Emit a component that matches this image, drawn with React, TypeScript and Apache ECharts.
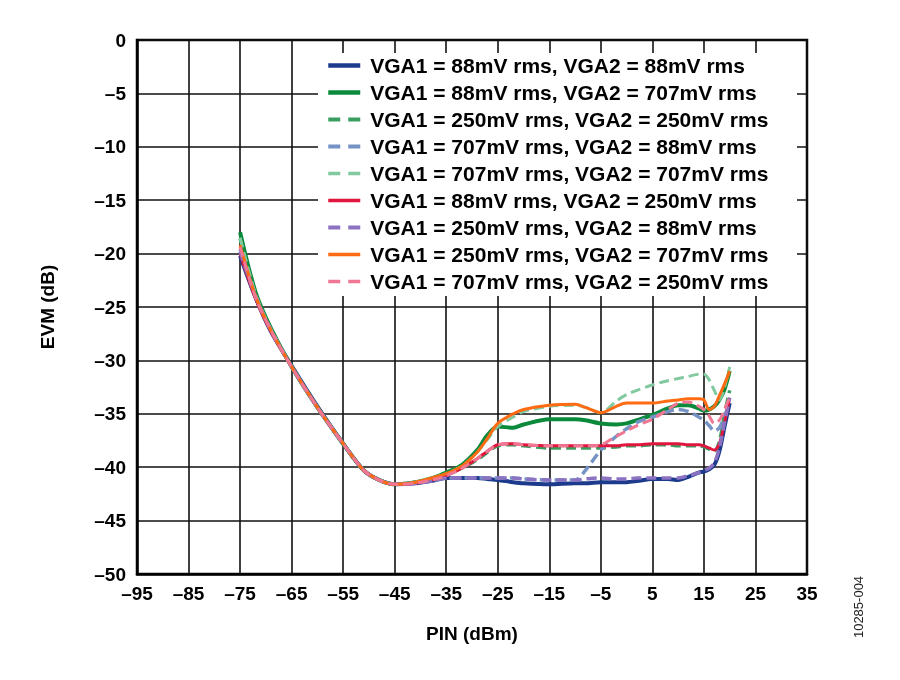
import { useEffect, useRef } from 'react';
import * as echarts from 'echarts';

// PIN (dBm) sample points shared by all traces
const pin = [
  -75, -72, -69, -65, -60, -55, -51, -48, -45, -41, -37, -35, -32, -29, -27, -25, -22, -20,
  -15, -10, -8, -5, -2, 0, 2, 5, 8, 10, 12, 14, 15, 16, 17, 18, 19, 20,
];

// EVM (dB) per VGA1/VGA2 setting
const evm88_88 = [
  -20.2, -24.1, -27.3, -30.5, -34.3, -37.8, -40.3, -41.2, -41.6, -41.5, -41.2, -41.0, -41.0, -41.0, -41.1, -41.2, -41.4, -41.5,
  -41.6, -41.5, -41.5, -41.4, -41.4, -41.4, -41.3, -41.1, -41.1, -41.2, -40.9, -40.5, -40.4, -40.2, -39.8, -38.5, -36.2, -34.0,
];
const evm88_707 = [
  -18.0, -23.6, -27.0, -30.6, -34.4, -37.8, -40.3, -41.2, -41.6, -41.4, -40.9, -40.5, -39.8, -38.4, -37.0, -36.2, -36.3, -36.0,
  -35.5, -35.5, -35.6, -35.9, -36.0, -35.9, -35.6, -35.1, -34.5, -34.2, -34.2, -34.5, -34.7, -34.6, -34.3, -33.7, -32.7, -31.0,
];
const evm250_250 = [
  -18.6, -23.8, -27.1, -30.6, -34.4, -37.8, -40.3, -41.2, -41.6, -41.4, -41.0, -40.7, -40.1, -39.3, -38.6, -38.0, -37.9, -38.0,
  -38.2, -38.2, -38.2, -38.2, -38.1, -38.0, -38.0, -37.9, -37.9, -38.0, -38.0, -38.0, -38.1, -38.3, -38.5, -37.6, -35.0, -32.8,
];
const evm707_88 = [
  -19.6, -24.0, -27.2, -30.6, -34.4, -37.8, -40.3, -41.2, -41.6, -41.5, -41.2, -41.0, -41.0, -41.0, -41.0, -41.0, -41.0, -41.1,
  -41.2, -41.2, -40.3, -38.4, -37.1, -36.4, -35.8, -35.3, -34.8, -34.6, -34.8, -35.3, -35.6, -36.1, -36.6, -36.3, -35.2, -34.0,
];
const evm707_707 = [
  -18.5, -23.8, -27.1, -30.6, -34.4, -37.8, -40.3, -41.2, -41.6, -41.4, -40.9, -40.6, -39.9, -38.6, -37.4, -36.2, -35.3, -34.8,
  -34.3, -34.2, -34.4, -34.9, -33.8, -33.2, -32.8, -32.3, -31.9, -31.7, -31.5, -31.3, -31.3, -31.8, -32.8, -33.7, -32.5, -30.6,
];
const evm88_250 = [
  -20.0, -24.2, -27.3, -30.6, -34.4, -37.8, -40.3, -41.2, -41.6, -41.5, -41.1, -40.8, -40.1, -39.2, -38.5, -37.9, -37.8, -37.9,
  -38.0, -38.0, -38.0, -38.0, -38.0, -37.9, -37.9, -37.8, -37.8, -37.8, -37.9, -37.9, -38.0, -38.2, -38.4, -37.8, -35.8, -33.5,
];
const evm250_88 = [
  -19.8, -24.0, -27.2, -30.6, -34.4, -37.8, -40.3, -41.2, -41.6, -41.5, -41.2, -41.0, -41.0, -41.0, -41.0, -41.0, -41.0, -41.1,
  -41.2, -41.2, -41.1, -41.0, -41.1, -41.1, -41.0, -41.0, -41.0, -41.0, -40.8, -40.5, -40.3, -40.1, -39.6, -38.2, -35.8, -33.5,
];
const evm250_707 = [
  -19.2, -24.0, -27.2, -30.6, -34.4, -37.8, -40.3, -41.2, -41.6, -41.4, -40.9, -40.6, -39.9, -38.6, -37.3, -35.9, -35.0, -34.6,
  -34.2, -34.1, -34.4, -34.9, -34.3, -34.0, -34.0, -34.0, -33.8, -33.7, -33.6, -33.6, -33.7, -34.6, -34.3, -33.3, -32.2, -31.0,
];
const evm707_250 = [
  -19.4, -24.1, -27.2, -30.6, -34.4, -37.8, -40.3, -41.2, -41.6, -41.5, -41.1, -40.8, -40.1, -39.2, -38.5, -37.9, -37.8, -37.9,
  -38.0, -38.0, -38.0, -37.9, -37.1, -36.6, -36.1, -35.5, -34.6, -34.0, -33.9, -34.3, -34.6, -35.2, -35.9, -35.6, -34.6, -33.4,
];

const seriesNames = [
  'VGA1 = 88mV rms, VGA2 = 88mV rms',
  'VGA1 = 88mV rms, VGA2 = 707mV rms',
  'VGA1 = 250mV rms, VGA2 = 250mV rms',
  'VGA1 = 707mV rms, VGA2 = 88mV rms',
  'VGA1 = 707mV rms, VGA2 = 707mV rms',
  'VGA1 = 88mV rms, VGA2 = 250mV rms',
  'VGA1 = 250mV rms, VGA2 = 88mV rms',
  'VGA1 = 250mV rms, VGA2 = 707mV rms',
  'VGA1 = 707mV rms, VGA2 = 250mV rms',
];
const seriesValues = [
  evm88_88, evm88_707, evm250_250, evm707_88, evm707_707, evm88_250, evm250_88, evm250_707, evm707_250,
];

// line look per trace: [colour, width, dashed]
const lineLooks: [string, number, boolean][] = [
  ['#1c3b8c', 4, false],
  ['#0b8a3b', 4, false],
  ['#3a9e60', 3.5, true],
  ['#7593c4', 3.5, true],
  ['#82c9a0', 3, true],
  ['#e0163e', 3, false],
  ['#8b72c2', 3.5, true],
  ['#ff6b12', 3, false],
  ['#f07793', 3, true],
];

const FONT = 'Arial, "Liberation Sans", Helvetica, sans-serif';

const fmt = (v: number) => (v < 0 ? '\u2013' + Math.abs(v) : String(v));

export default function App() {
  const ref = useRef<HTMLDivElement>(null);

  useEffect(() => {
    if (!ref.current) return;
    const chart = echarts.init(ref.current, undefined, { renderer: 'svg' });

    const series = seriesNames.map((name, i) => {
      const [color, width, dashed] = lineLooks[i];
      return {
        name,
        type: 'line' as const,
        data: pin.map((x, k) => [x, seriesValues[i][k]]),
        smooth: 0.3,
        symbol: 'none',
        color,
        lineStyle: { color, width, type: dashed ? [10, 5] : 'solid' },
        z: 2 + i * 0.01,
      };
    });

    const legendData = seriesNames.map((name, i) => {
      const [color, width, dashed] = lineLooks[i];
      return {
        name,
        lineStyle: { color, width: width + 0.5, type: dashed ? [12, 8] : 'solid' },
      };
    });

    const axisText = { fontSize: 19, fontWeight: 'bold' as const, color: '#000', fontFamily: FONT };

    chart.setOption({
      animation: false,
      textStyle: { fontFamily: FONT },
      grid: {
        left: 137,
        right: 93,
        top: 40,
        bottom: 106,
        show: true,
        borderColor: '#000',
        borderWidth: 2.5,
      },
      xAxis: {
        type: 'value',
        min: -95,
        max: 35,
        interval: 10,
        name: 'PIN (dBm)',
        nameLocation: 'middle',
        nameGap: 50,
        nameTextStyle: axisText,
        axisLine: { onZero: false, lineStyle: { color: '#000', width: 2.5 } },
        axisTick: { show: false },
        axisLabel: { ...axisText, formatter: fmt, margin: 10 },
        splitLine: { lineStyle: { color: '#111', width: 1.6 } },
      },
      yAxis: {
        type: 'value',
        min: -50,
        max: 0,
        interval: 5,
        name: 'EVM (dB)',
        nameLocation: 'middle',
        nameGap: 80,
        nameTextStyle: axisText,
        axisLine: { onZero: false, lineStyle: { color: '#000', width: 2.5 } },
        axisTick: { show: false },
        axisLabel: { ...axisText, formatter: fmt, margin: 11 },
        splitLine: { lineStyle: { color: '#111', width: 1.6 } },
      },
      legend: {
        orient: 'vertical',
        left: 318,
        top: 53,
        padding: [2, 8, 4, 8],
        itemGap: 6,
        itemWidth: 32,
        itemHeight: 14,
        itemStyle: { opacity: 0 },
        backgroundColor: '#fff',
        textStyle: { fontSize: 21, fontWeight: 'bold', color: '#000', fontFamily: FONT, lineHeight: 21, padding: [0, 0, 0, 5] },
        data: legendData,
        z: 5,
      },
      graphic: [
        {
          type: 'rect',
          z: 1,
          shape: { x: 318, y: 53, width: 479, height: 243 },
          style: { fill: '#fff' },
          silent: true,
        },
        {
          type: 'text',
          x: 858,
          y: 607,
          rotation: Math.PI / 2,
          style: {
            text: '10285-004',
            fontSize: 13,
            fontFamily: FONT,
            fill: '#222',
            align: 'center',
            verticalAlign: 'middle',
          },
        },
      ],
      series,
    });

    return () => chart.dispose();
  }, []);

  return <div ref={ref} style={{ position: 'fixed', left: 0, top: 0, width: 900, height: 680 }} />;
}
